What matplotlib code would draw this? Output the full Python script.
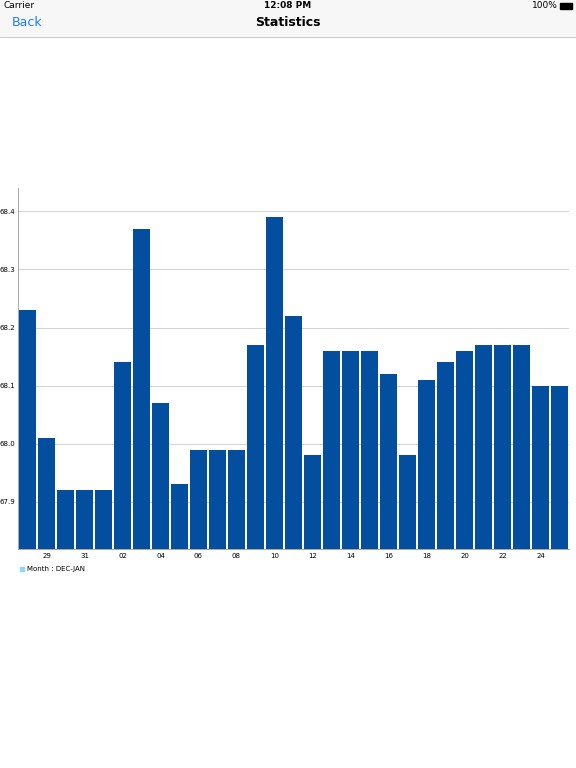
import matplotlib
matplotlib.use("Agg")
import matplotlib.pyplot as plt
from matplotlib.patches import Rectangle

days = ["28","29","30","31","01","02","03","04","05","06","07","08","09","10","11",
        "12","13","14","15","16","17","18","19","20","21","22","23","24","25"]
values = [68.23,68.01,67.92,67.92,67.92,68.14,68.37,68.07,67.93,67.99,67.99,67.99,68.17,68.39,68.22,
          67.98,68.16,68.16,68.16,68.12,67.98,68.11,68.14,68.16,68.17,68.17,68.17,68.10,68.10]
yticks = [67.9,68.0,68.1,68.2,68.3,68.4]
legend_label = "Month : DEC-JAN"

W, H = 576, 768
fig = plt.figure(figsize=(W/100, H/100), dpi=100)
fig.patch.set_facecolor("white")

# header
fig.add_artist(Rectangle((0, 1-37/H), 1, 37/H, transform=fig.transFigure, color="#f7f7f7", zorder=0))
fig.add_artist(plt.Line2D([0,1],[1-37/H,1-37/H], transform=fig.transFigure, color="#c8c8c8", lw=0.6))
fig.text(4/W, 1-6/H, "Carrier", fontsize=6.5, va="center")
fig.text(0.5, 1-6/H, "12:08 PM", fontsize=6.5, va="center", ha="center", weight="bold")
fig.text(558/W, 1-6/H, "100%", fontsize=6.5, va="center", ha="right")
fig.add_artist(Rectangle((560/W, 1-9/H), 12/W, 6/H, transform=fig.transFigure, color="black"))
fig.text(12/W, 1-23/H, "Back", fontsize=9, va="center", color="#1a7cf5")
fig.text(0.5, 1-23/H, "Statistics", fontsize=9, va="center", ha="center", weight="bold")

ax = fig.add_axes([18/W, (H-549)/H, (569-18)/W, (549-188)/H])
x = list(range(len(days)))
ax.bar(x, values, width=0.85, color="#034e9e", zorder=2)
ax.set_xlim(-0.5, len(days)-0.5)
ax.set_ylim(67.819, 68.44)
ax.set_yticks(yticks)
ax.set_yticklabels([f"{v:.1f}" for v in yticks], fontsize=5)
ax.yaxis.grid(True, color="#cccccc", lw=0.6, zorder=0)
ax.set_xticks(x[1::2])
ax.set_xticklabels(days[1::2], fontsize=5)
ax.tick_params(length=0, pad=3)
ax.tick_params(axis="y", pad=2)
for s in ["top", "right"]:
    ax.spines[s].set_visible(False)
ax.spines["left"].set_color("#999999"); ax.spines["left"].set_linewidth(0.6)
ax.spines["bottom"].set_color("#999999"); ax.spines["bottom"].set_linewidth(0.6)

fig.add_artist(Rectangle((20/W, 1-571/H), 4/W, 4/H, transform=fig.transFigure, color="#8fd8f8"))
fig.text(27/W, 1-569/H, legend_label, fontsize=5, va="center")

fig.savefig("out.png", dpi=100)
